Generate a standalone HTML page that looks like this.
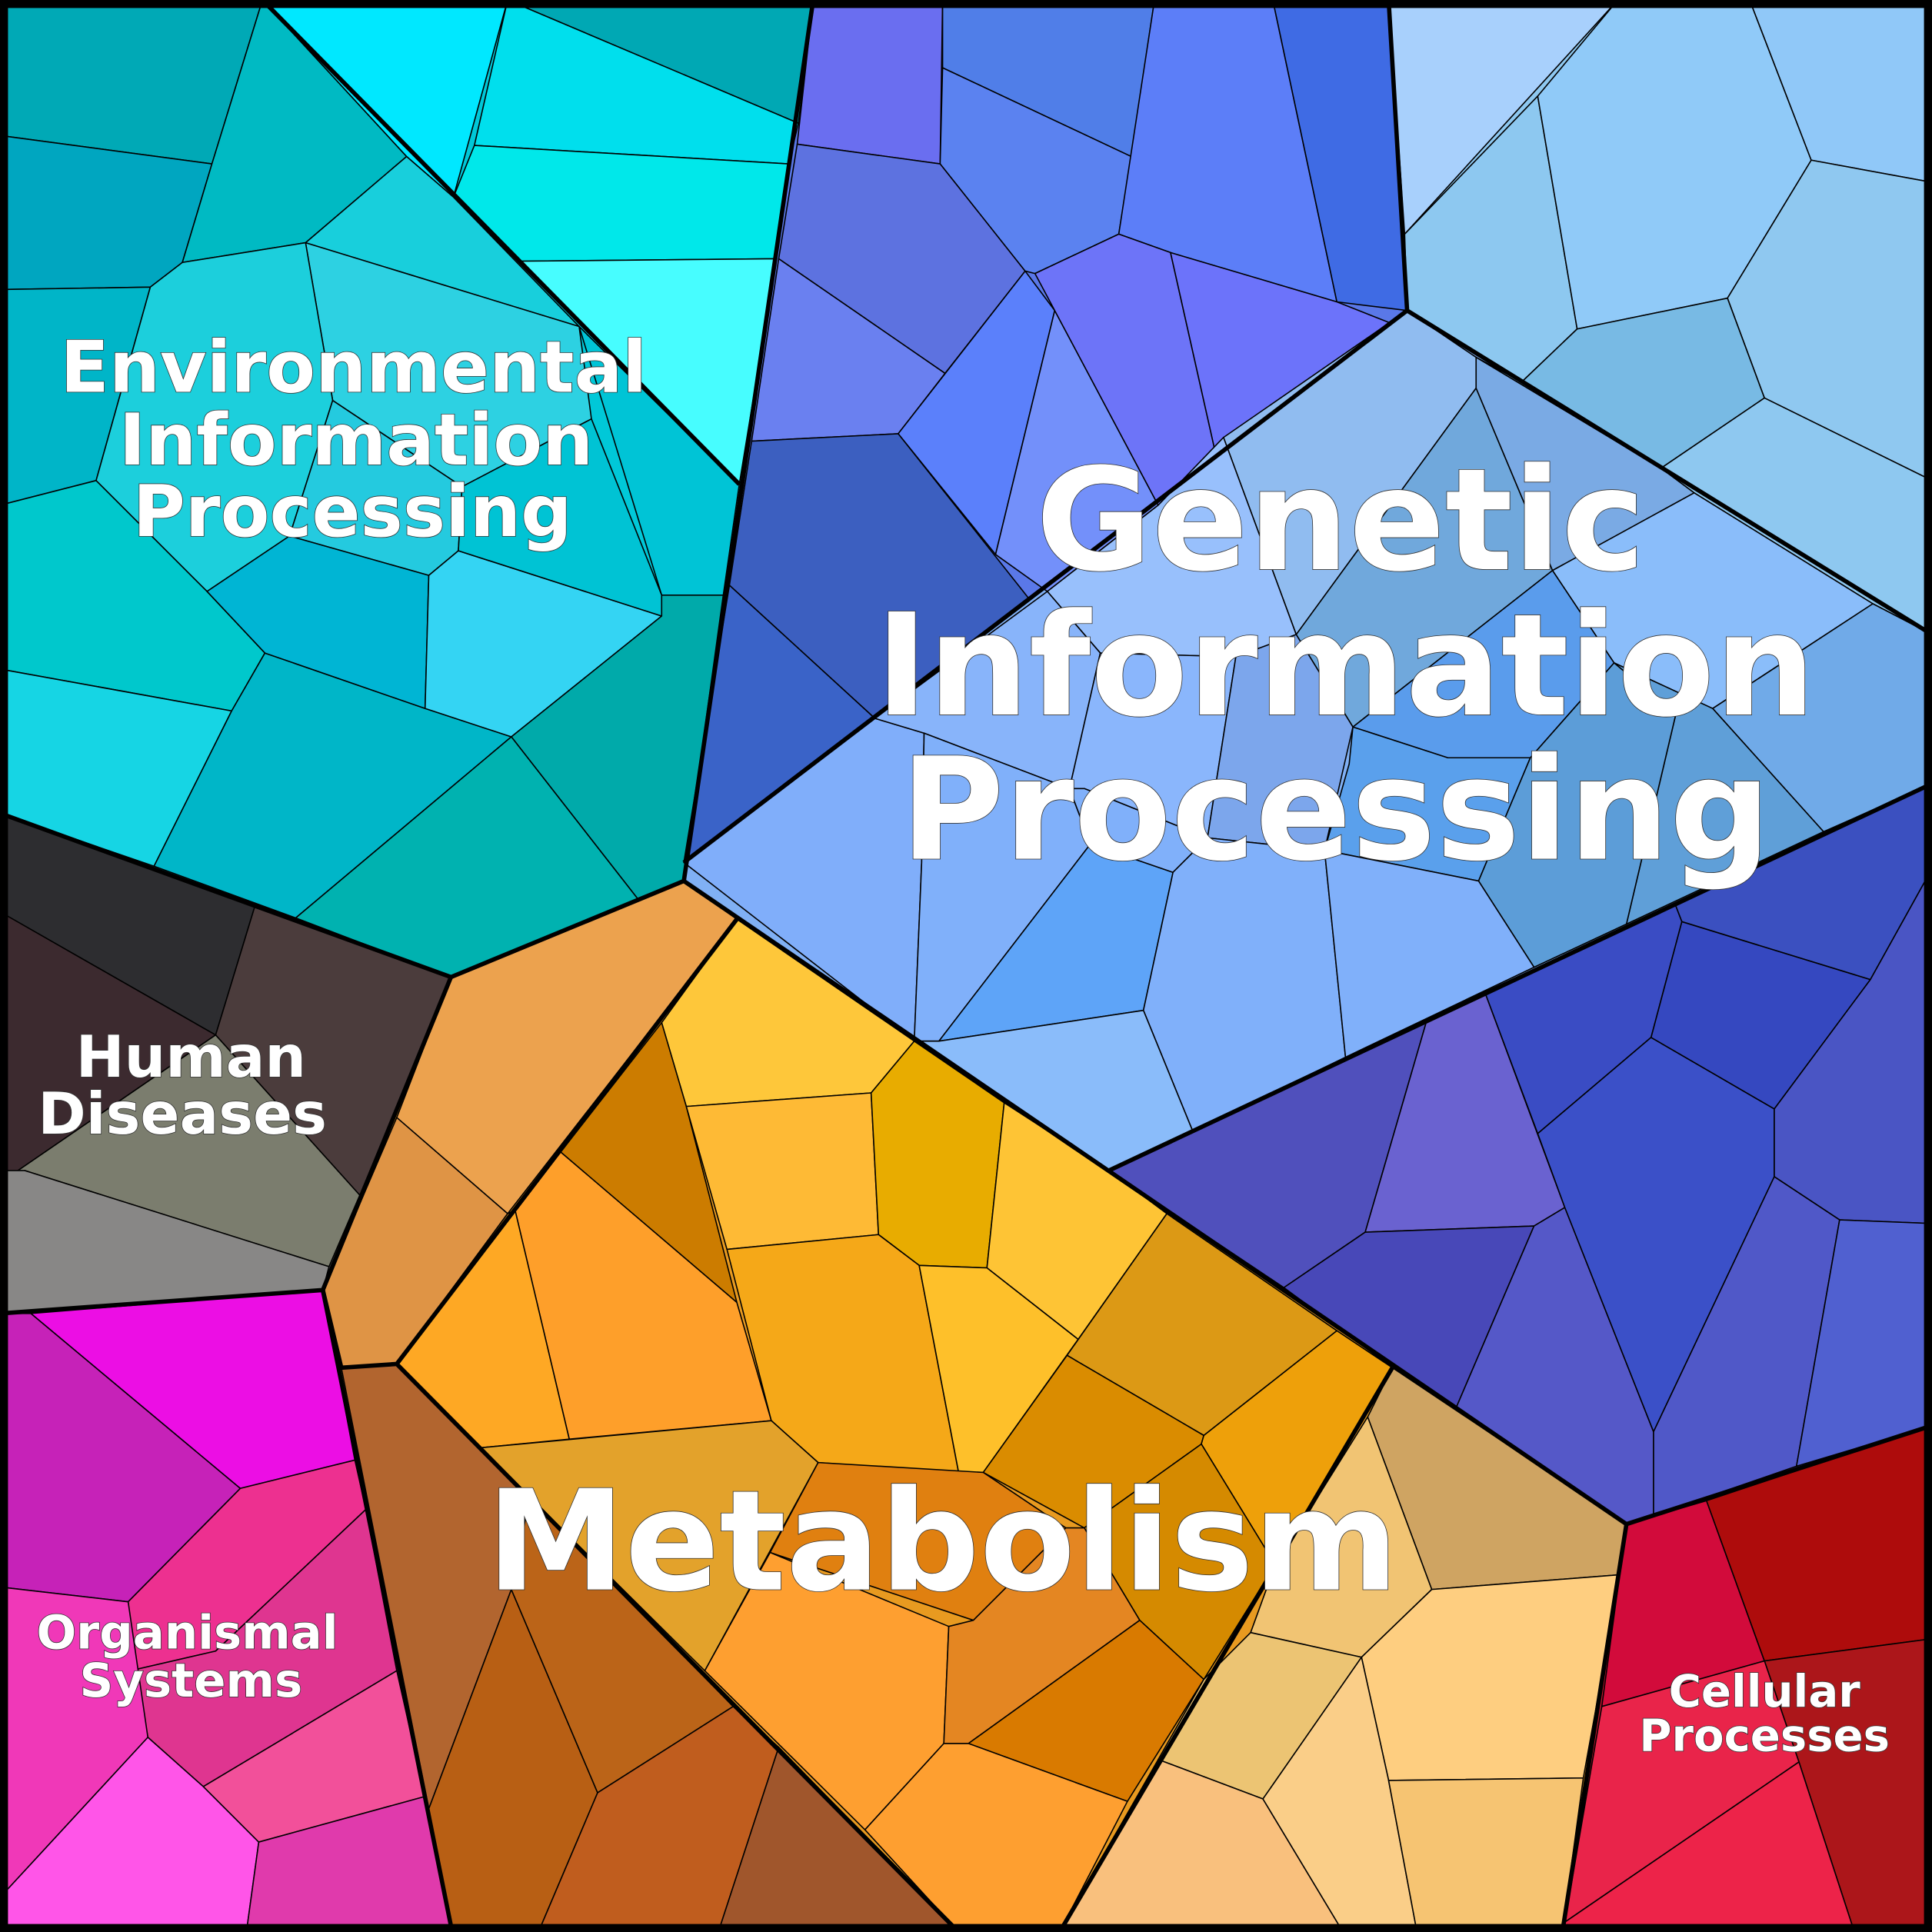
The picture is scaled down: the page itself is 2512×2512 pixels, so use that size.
<!DOCTYPE html>
<html><head><meta charset="utf-8"><style>html,body{margin:0;padding:0;background:#000}svg{display:block}</style></head>
<body>
<svg xmlns="http://www.w3.org/2000/svg" width="2512" height="2512" viewBox="0 0 1568 1568">
<!-- underlays -->
<g stroke="none">
<polygon points="0,0 660,0 555,715 366,793 0,660" fill="#00c8d8"/>
<polygon points="0,660 366,793 262,1047 0,1066" fill="#555"/>
<polygon points="0,1066 262,1047 367,1568 0,1568" fill="#e03aac"/>
<polygon points="262,1047 366,793 555,715 1320,1237 1268,1568 367,1568" fill="#e89a20"/>
<polygon points="1320,1237 1568,1157 1568,1568 1268,1568" fill="#c01830"/>
<polygon points="660,0 1127,0 1142,252 555,700" fill="#5a78e8"/>
<polygon points="1127,0 1568,0 1568,515 1142,252" fill="#8ec8f0"/>
<polygon points="1142,252 1568,515 1568,636 900,950 555,715 555,700" fill="#80b0f4"/>
<polygon points="900,950 1568,636 1568,1157 1320,1237" fill="#4a55c4"/>
</g>
<g stroke="#000" stroke-width="1" stroke-linejoin="round">
<!-- Environmental -->
<polygon points="0,0 213,0 172,133 0,110" fill="#00a9b6"/>
<polygon points="0,110 172,133 148,213 122,233 0,235" fill="#00a6c0"/>
<polygon points="213,0 330,127 248,197 148,213 172,133" fill="#00bac3"/>
<polygon points="213,0 412,0 368,160 330,127" fill="#00e8ff"/>
<polygon points="412,0 660,0 648,100" fill="#00a8b4"/>
<polygon points="412,0 648,100 640,133 385,118" fill="#00dfed"/>
<polygon points="385,118 640,133 630,210 420,212 368,160" fill="#00e8ea"/>
<polygon points="420,212 630,210 600,393" fill="#47fdff"/>
<polygon points="330,127 368,160 470,265 248,197" fill="#18cfdc"/>
<polygon points="470,265 600,393 587,483 537,483" fill="#00c4d6"/>
<polygon points="248,197 470,265 480,340 375,395 270,325" fill="#2dd1e2"/>
<polygon points="0,235 122,233 78,390 0,410" fill="#00b5c8"/>
<polygon points="122,233 148,213 248,197 270,325 235,435 168,480 78,390" fill="#1ccfdc"/>
<polygon points="270,325 375,395 372,447 348,467 235,435" fill="#24cadf"/>
<polygon points="0,410 78,390 168,480 215,530 188,577 0,543" fill="#00c8cc"/>
<polygon points="0,543 188,577 125,703 0,660" fill="#16d5e4"/>
<polygon points="215,530 345,575 415,598 240,745 125,703 188,577" fill="#00b6c8"/>
<polygon points="168,480 235,435 348,467 345,575 215,530" fill="#00b5d4"/>
<polygon points="348,467 372,447 537,500 415,598 345,575" fill="#34d4f3"/>
<polygon points="372,447 375,395 480,340 537,483 537,500" fill="#00c3d4"/>
<polygon points="415,598 537,500 537,483 587,483 555,715 518,730" fill="#00aaaa"/>
<polygon points="415,598 518,730 366,793 240,745" fill="#00b2b0"/>
<!-- Human diseases -->
<polygon points="0,660 207,735 175,840 0,740" fill="#2d2d30"/>
<polygon points="0,740 175,840 0,960" fill="#3c2a2f"/>
<polygon points="207,735 366,793 292,970 175,840" fill="#4b3c3c"/>
<polygon points="0,960 175,840 292,970 267,1028 20,950" fill="#7b7d6e"/>
<polygon points="0,950 20,950 267,1028 262,1047 0,1066" fill="#888786"/>
<!-- Organismal -->
<polygon points="25,1066 262,1047 288,1185 195,1208" fill="#ec0ee4"/>
<polygon points="0,1066 25,1066 195,1208 104,1300 0,1288" fill="#c622b8"/>
<polygon points="104,1300 195,1208 288,1185 297,1225 175,1340 110,1355" fill="#ed3090"/>
<polygon points="297,1225 322,1356 165,1450 120,1410 110,1355 175,1340" fill="#df3590"/>
<polygon points="0,1288 104,1300 120,1410 0,1540" fill="#f038b8"/>
<polygon points="120,1410 165,1450 210,1495 200,1568 0,1568 0,1540" fill="#ff55e8"/>
<polygon points="165,1450 322,1356 345,1458 210,1495" fill="#f2509a"/>
<polygon points="210,1495 345,1458 367,1568 200,1568" fill="#e03aac"/>
<!-- Metabolism -->
<polygon points="366,793 555,715 598,746 412,985 322,907" fill="#eca24e"/>
<polygon points="322,907 412,985 322,1107 277,1110 262,1047" fill="#df9445"/>
<polygon points="598,746 742,845 707,887 557,898 537,830" fill="#fec73a"/>
<polygon points="537,830 557,898 598,1057 455,935" fill="#cc7c00"/>
<polygon points="455,935 598,1057 626,1153 462,1168 418,982" fill="#fe9f2a"/>
<polygon points="412,985 418,982 462,1168 390,1175 322,1107" fill="#fea824"/>
<polygon points="557,898 707,887 713,1002 590,1014" fill="#feba35"/>
<polygon points="707,887 742,845 815,895 801,1029 746,1027 713,1002" fill="#e8ac00"/>
<polygon points="815,895 900,950 947,985 875,1087 801,1029" fill="#fec435"/>
<polygon points="590,1014 713,1002 746,1027 778,1195 664,1187 626,1153" fill="#f5a818"/>
<polygon points="746,1027 801,1029 875,1087 798,1195 778,1195" fill="#fec02a"/>
<polygon points="947,985 1085,1080 977,1165 866,1100" fill="#dc9915"/>
<polygon points="866,1100 977,1165 975,1172 880,1240 798,1195" fill="#da8c00"/>
<polygon points="1085,1080 1130,1110 1035,1270 975,1172 977,1165" fill="#eea00a"/>
<polygon points="975,1172 1035,1270 977,1363 925,1315 880,1240" fill="#d58a00"/>
<polygon points="277,1110 322,1107 430,1215 415,1290 348,1468" fill="#b2652f"/>
<polygon points="348,1468 415,1290 485,1455 437,1568 367,1568" fill="#b85f14"/>
<polygon points="430,1215 595,1385 485,1455 415,1290" fill="#bb6418"/>
<polygon points="485,1455 595,1385 632,1418 583,1568 437,1568" fill="#c05d1e"/>
<polygon points="632,1418 778,1568 583,1568" fill="#a0562c"/>
<polygon points="390,1175 626,1153 664,1187 572,1356 430,1215" fill="#e3a22b"/>
<polygon points="664,1187 798,1195 865,1240 790,1315 625,1260" fill="#e08010"/>
<polygon points="625,1260 770,1320 766,1415 702,1485 572,1356" fill="#fe9f30"/>
<polygon points="770,1320 790,1315 865,1240 880,1240 925,1315 786,1415 766,1415" fill="#e48622"/>
<polygon points="786,1415 925,1315 977,1363 915,1462" fill="#d97a00"/>
<polygon points="702,1485 766,1415 786,1415 915,1462 860,1568 778,1568" fill="#fe9f30"/>
<polygon points="1130,1110 1320,1237 1315,1278 1162,1290 1110,1150" fill="#cfa462"/>
<polygon points="1110,1150 1162,1290 1105,1345 1015,1325 1035,1270" fill="#f1c473"/>
<polygon points="1015,1325 1105,1345 1025,1460 940,1428 977,1363" fill="#ecc473"/>
<polygon points="1162,1290 1315,1278 1285,1443 1127,1445 1105,1345" fill="#fece80"/>
<polygon points="940,1428 1025,1460 1090,1568 860,1568" fill="#f9c07d"/>
<polygon points="1025,1460 1105,1345 1127,1445 1150,1568 1090,1568" fill="#face88"/>
<polygon points="1127,1445 1285,1443 1268,1568 1150,1568" fill="#f6c472"/>
<!-- Cellular -->
<polygon points="1320,1237 1385,1218 1432,1348 1300,1385" fill="#d20b3b"/>
<polygon points="1385,1218 1568,1157 1568,1330 1432,1348" fill="#ae0c0c"/>
<polygon points="1432,1348 1568,1330 1568,1568 1505,1568 1460,1430" fill="#ac161a"/>
<polygon points="1300,1385 1432,1348 1460,1430 1270,1560" fill="#e9244a"/>
<polygon points="1270,1560 1460,1430 1505,1568 1268,1568" fill="#ed2349"/>
<!-- Genetic purple -->
<polygon points="660,0 765,0 763,133 647,117" fill="#6a6ef0"/>
<polygon points="765,0 937,0 918,127 765,55" fill="#507ee8"/>
<polygon points="765,55 918,127 908,190 840,222 832,220 763,133" fill="#5b82f0"/>
<polygon points="937,0 1033,0 1085,245 950,205 908,190" fill="#5c7ef8"/>
<polygon points="1033,0 1127,0 1142,252 1085,245" fill="#3f6be4"/>
<polygon points="647,117 763,133 832,220 767,303 632,210" fill="#5d72e0"/>
<polygon points="632,210 767,303 729,352 610,358" fill="#6a80f0"/>
<polygon points="610,358 729,352 836,487 710,583 592,475" fill="#3c5fc0"/>
<polygon points="592,475 710,583 555,700" fill="#3a63c8"/>
<polygon points="729,352 832,220 856,252 808,450" fill="#5b80fb"/>
<polygon points="856,252 940,410 850,480 808,450" fill="#7390fa"/>
<polygon points="840,222 908,190 950,205 987,370 940,410 856,252" fill="#6d74f8"/>
<polygon points="950,205 1085,245 1128,262 987,370" fill="#6c73fa"/>
<!-- light blue top right -->
<polygon points="1127,0 1313,0 1140,190" fill="#a8d0fc"/>
<polygon points="1140,190 1248,78 1280,267 1235,310 1142,252" fill="#8dc8f0"/>
<polygon points="1248,78 1313,0 1420,0 1470,130 1402,242 1280,267" fill="#90caf8"/>
<polygon points="1420,0 1568,0 1568,148 1470,130" fill="#90c8f8"/>
<polygon points="1470,130 1568,148 1568,390 1432,323 1402,242" fill="#8fc8f0"/>
<polygon points="1235,310 1280,267 1402,242 1432,323 1348,380 1198,290" fill="#78bae4"/>
<polygon points="1348,380 1432,323 1568,390 1568,515 1520,490 1375,400" fill="#8ec8f0"/>
<!-- middle genetic -->
<polygon points="1142,252 1198,290 1198,315 1052,515 993,355" fill="#90bcf0"/>
<polygon points="993,355 1052,515 1003,533 893,530 850,480 940,410" fill="#98c0fc"/>
<polygon points="1198,315 1260,463 1098,590 1052,515" fill="#70a8dc"/>
<polygon points="1198,290 1348,380 1375,400 1260,463 1198,315" fill="#7aaae4"/>
<polygon points="1260,463 1375,400 1520,490 1390,575 1310,538" fill="#8abdfa"/>
<polygon points="1520,490 1568,515 1568,636 1480,675 1390,575" fill="#70aae8"/>
<polygon points="1310,538 1390,575 1480,675 1320,750 1360,580" fill="#5f9fd8"/>
<polygon points="1260,463 1310,538 1242,615 1175,615 1098,590" fill="#5a9cec"/>
<polygon points="1098,590 1175,615 1242,615 1200,715 1075,690 1095,620" fill="#5aa0ec"/>
<polygon points="1242,615 1310,538 1360,580 1320,750 1245,785 1200,715" fill="#5c9dd8"/>
<polygon points="555,700 710,583 750,595 748,700 742,845" fill="#80aefa"/>
<polygon points="710,583 850,480 893,530 868,640 750,595" fill="#88b4fa"/>
<polygon points="893,530 1003,533 980,680 880,640 868,640" fill="#8ab6fc"/>
<polygon points="1003,533 1052,515 1098,590 1075,690 980,680" fill="#7ca6ec"/>
<polygon points="750,595 868,640 885,685 762,845 742,845 748,700" fill="#80b0fa"/>
<polygon points="885,685 952,708 928,820 762,845" fill="#5ea4f8"/>
<polygon points="868,640 880,640 980,680 952,708 885,685" fill="#80b0fa"/>
<polygon points="952,708 980,680 1075,690 1092,858 968,918 928,820" fill="#80b0fa"/>
<polygon points="1075,690 1200,715 1245,785 1092,858" fill="#80b0fa"/>
<polygon points="742,845 762,845 928,820 968,918 900,950" fill="#8abcfa"/>
<!-- dark blue -->
<polygon points="900,950 1158,828 1108,1000 1042,1045" fill="#5050bc"/>
<polygon points="1158,828 1205,805 1270,980 1245,995 1108,1000" fill="#6a62d0"/>
<polygon points="1042,1045 1108,1000 1245,995 1182,1142 1130,1110" fill="#4848b8"/>
<polygon points="1182,1142 1245,995 1270,980 1342,1162 1342,1230 1320,1237" fill="#5558c8"/>
<polygon points="1205,805 1360,735 1365,748 1340,842 1248,920" fill="#3a4cc4"/>
<polygon points="1248,920 1340,842 1440,900 1440,955 1342,1162 1270,980" fill="#3b50c8"/>
<polygon points="1365,748 1518,795 1440,900 1340,842" fill="#3548c0"/>
<polygon points="1360,735 1568,636 1568,705 1518,795 1365,748" fill="#3b50c0"/>
<polygon points="1518,795 1568,705 1568,993 1493,990 1440,955 1440,900" fill="#4a55c4"/>
<polygon points="1440,955 1493,990 1458,1190 1342,1230 1342,1162" fill="#5058c8"/>
<polygon points="1493,990 1568,993 1568,1157 1458,1190" fill="#5060d0"/>
</g>
<!-- thick borders -->
<g fill="none" stroke="#000" stroke-width="3.5" stroke-linejoin="round">
<polyline points="660,0 555,715 366,793 0,660"/>
<polyline points="213,0 600,393"/>
<polyline points="366,793 262,1047 0,1066"/>
<polyline points="262,1047 277,1110 322,1107 598,746"/>
<polyline points="262,1047 367,1568"/>
<polyline points="322,1107 778,1568"/>
<polyline points="555,715 1320,1237 1268,1568"/>
<polyline points="1130,1110 860,1568"/>
<polyline points="1320,1237 1568,1157"/>
<polyline points="1127,0 1142,252 1568,515"/>
<polyline points="1142,252 555,700"/>
<polyline points="900,950 1568,636"/>
</g>
<rect x="3" y="3" width="1562" height="1562" fill="none" stroke="#000" stroke-width="7"/>
<g font-family="'DejaVu Sans', 'Liberation Sans', sans-serif" font-weight="bold" fill="#fff" stroke="#333" stroke-width="1" text-anchor="middle" paint-order="stroke">
<g font-size="58"><text x="287" y="318">Environmental</text><text x="289" y="377">Information</text><text x="286" y="435">Processing</text></g>
<g font-size="115"><text x="1088" y="462">Genetic</text><text x="1092" y="580">Information</text><text x="1084" y="697">Processing</text></g>
<text x="765" y="1290" font-size="113">Metabolism</text>
<g font-size="47"><text x="155" y="874">Human</text><text x="148" y="920">Diseases</text></g>
<g font-size="38"><text x="152" y="1338">Organismal</text><text x="155" y="1377">Systems</text></g>
<g font-size="36"><text x="1432" y="1385">Cellular</text><text x="1432" y="1421">Processes</text></g>
</g>
</svg>
</body></html>
